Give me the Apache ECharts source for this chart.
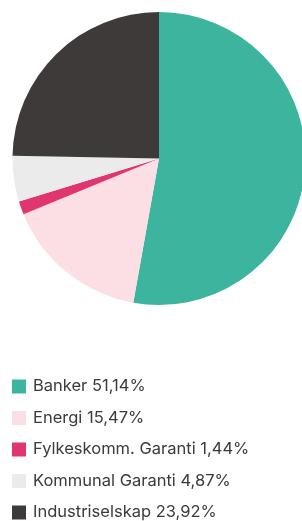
<!DOCTYPE html>
<html><head><meta charset="utf-8">
<script src="https://cdn.jsdelivr.net/npm/echarts@6/dist/echarts.min.js"></script>
<style>html,body{margin:0;padding:0;background:#fff}#c{width:302px;height:521px}</style>
</head><body><div id="c"></div>
<script>
const categories = ["Banker", "Energi", "Fylkeskomm. Garanti", "Kommunal Garanti", "Industriselskap"];
const values = [51.14, 15.47, 1.44, 4.87, 23.92];
const labels = ["51,14%", "15,47%", "1,44%", "4,87%", "23,92%"];
const colors = ["#3db49d", "#fbdfe4", "#e0356f", "#ebebeb", "#3e3a39"];

const chart = echarts.init(document.getElementById('c'), null, {renderer: 'canvas'});
chart.setOption({
  animation: false,
  color: colors,
  legend: {
    orient: 'vertical',
    left: 12,
    top: 378,
    height: 200,
    itemWidth: 14,
    itemHeight: 14,
    itemGap: 14.5,
    icon: 'rect',
    data: categories,
    formatter: function (name) { return name + ' ' + labels[categories.indexOf(name)]; },
    textStyle: { fontFamily: 'Inter', fontSize: 16.5, lineHeight: 16, color: '#3a3a3a', padding: [0,0,0,2] },
    padding: 0,
    selectedMode: false
  },
  series: [{
    type: 'pie',
    center: [159, 158.5],
    radius: [0, 146.5],
    startAngle: 90,
    clockwise: true,
    label: { show: false },
    labelLine: { show: false },
    silent: true,
    itemStyle: { borderWidth: 0 },
    data: categories.map((c, i) => ({ name: c, value: values[i] }))
  }]
});
</script></body></html>
